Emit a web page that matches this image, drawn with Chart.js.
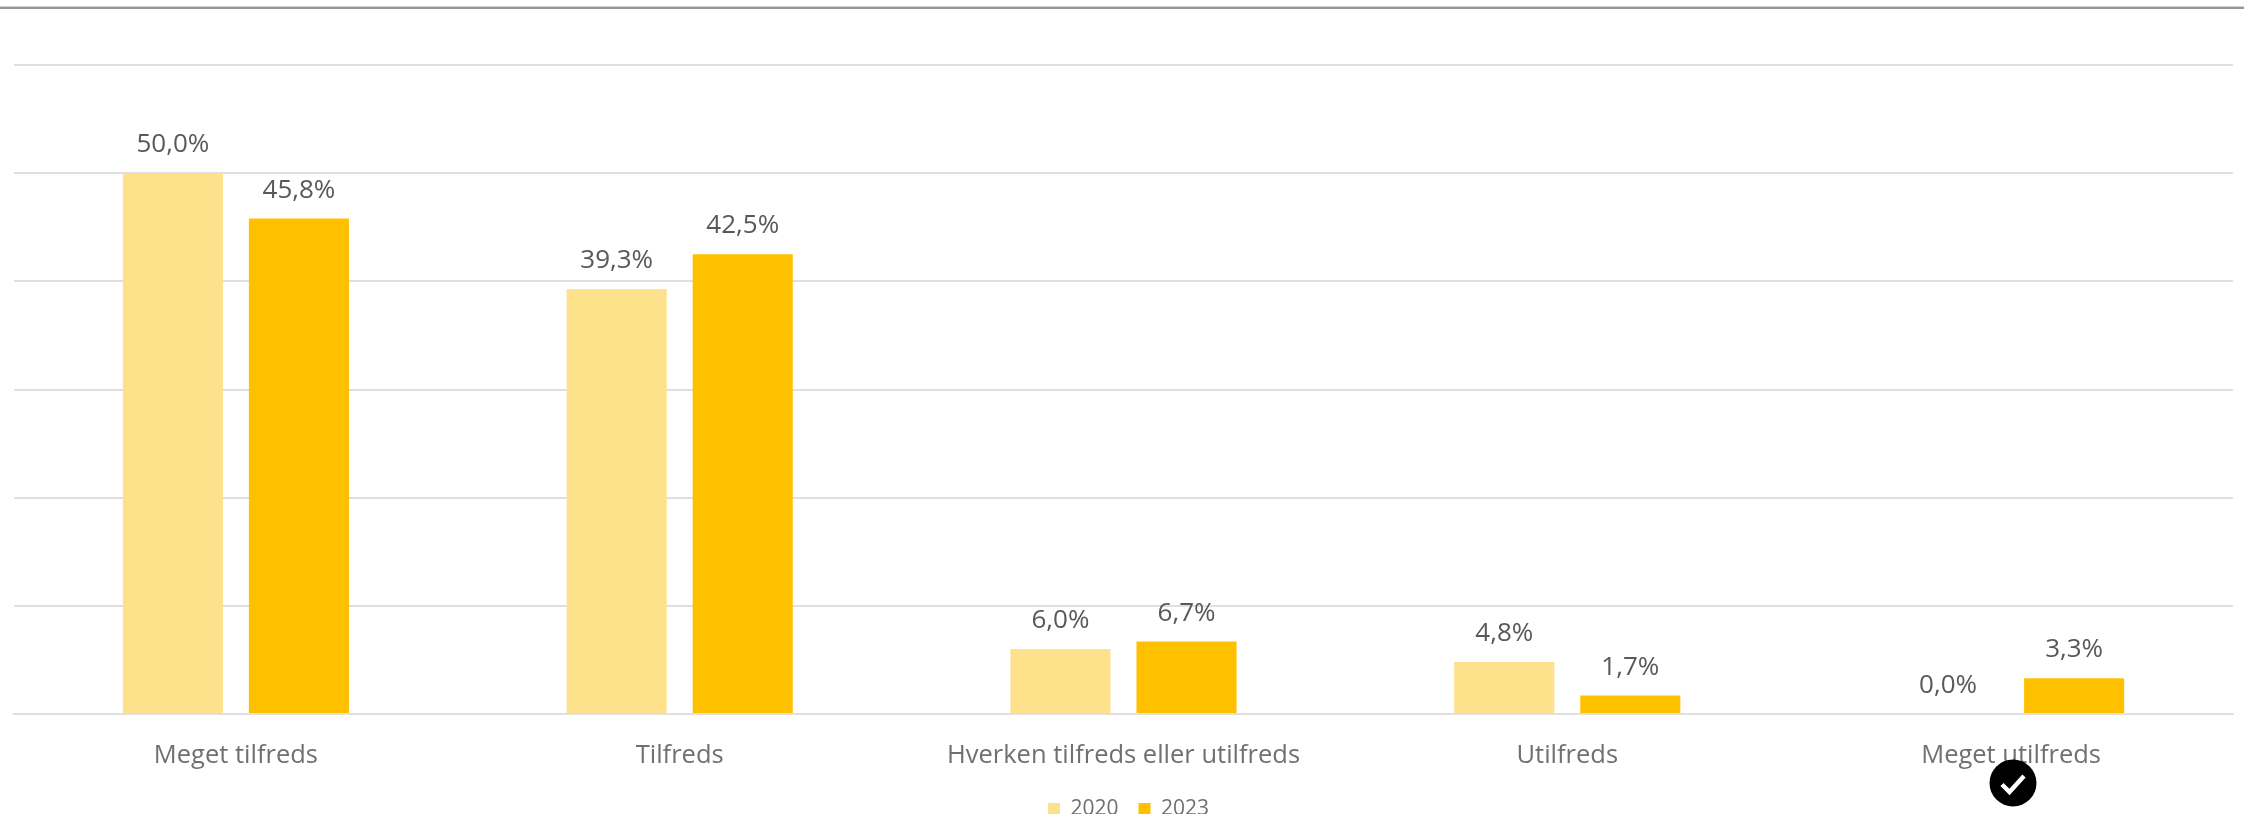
<!DOCTYPE html>
<html><head><meta charset="utf-8">
<style>
html,body{margin:0;padding:0;background:#fff;overflow:hidden}
#wrap{position:relative;width:2244px;height:814px}
#top{position:absolute;left:0;top:6px;width:2244px;height:3px;background:#d4d4d4}
#top2{position:absolute;left:0;top:7px;width:2244px;height:1.6px;background:#969696}
#check{position:absolute;left:1989px;top:759px;width:48px;height:48px}
canvas{position:absolute;left:0;top:0}
</style>
<script src="https://cdn.jsdelivr.net/npm/chart.js@4"></script>
</head><body>
<div id="wrap">
<canvas id="c" width="2244" height="814"></canvas>
<div id="top"></div><div id="top2"></div>
<svg id="check" viewBox="0 0 48 48"><circle cx="24" cy="24" r="23.5" fill="#000"/><path d="M13 25.5l7.5 7.5L35 17" fill="none" stroke="#fff" stroke-width="4.5"/></svg>
</div>
<script>
const categories=["Meget tilfreds","Tilfreds","Hverken tilfreds eller utilfreds","Utilfreds","Meget utilfreds"];
const series2020=[50.0,39.3,6.0,4.8,0.0];
const series2023=[45.8,42.5,6.7,1.7,3.3];
const seriesNames=["2020","2023"];
const yTicks=[0,10,20,30,40,50,60];
const FONT='"Open Sans"';
const labelPlugin={id:'valueLabels',
 afterLayout(chart){chart.legend.left+=5;chart.legend.right+=5;},
 afterDatasetsDraw(chart){
  const ctx=chart.ctx;ctx.save();
  ctx.font='26px '+FONT;ctx.fillStyle='#595959';ctx.textAlign='center';ctx.textBaseline='alphabetic';
  chart.data.datasets.forEach((ds,i)=>{
    chart.getDatasetMeta(i).data.forEach((el,j)=>{
      ctx.fillText(ds.data[j].toFixed(1).replace('.',',')+'%',el.x,el.y-21);
    });
  });
  ctx.restore();
}};
new Chart(document.getElementById('c'),{
  type:'bar',
  data:{labels:categories,datasets:[
    {label:seriesNames[0],data:series2020,backgroundColor:'#FDE18B'},
    {label:seriesNames[1],data:series2023,backgroundColor:'#FFC000'}
  ]},
  plugins:[labelPlugin],
  options:{
    responsive:false,animation:false,
    layout:{padding:{left:14,right:11,top:65,bottom:-15.5}},
    datasets:{bar:{categoryPercentage:0.568,barPercentage:0.794}},
    plugins:{
      tooltip:{enabled:false},
      legend:{position:'bottom',labels:{boxWidth:12,boxHeight:12,padding:20,color:'#707070',font:{family:FONT,size:21}}}
    },
    scales:{
      x:{afterFit(s){s.height=64.5;},grid:{display:false,drawTicks:false},border:{color:'#e0e0e0',width:2},
         ticks:{color:'#707070',font:{family:FONT,size:25.5},padding:26,maxRotation:0}},
      y:{min:0,max:60,afterBuildTicks(s){s.ticks=yTicks.map(v=>({value:v}));},
         grid:{color:'#e0e0e0',lineWidth:2,drawTicks:false},border:{display:false},
         ticks:{display:false}}
    }
  }
});
</script>
</body></html>
